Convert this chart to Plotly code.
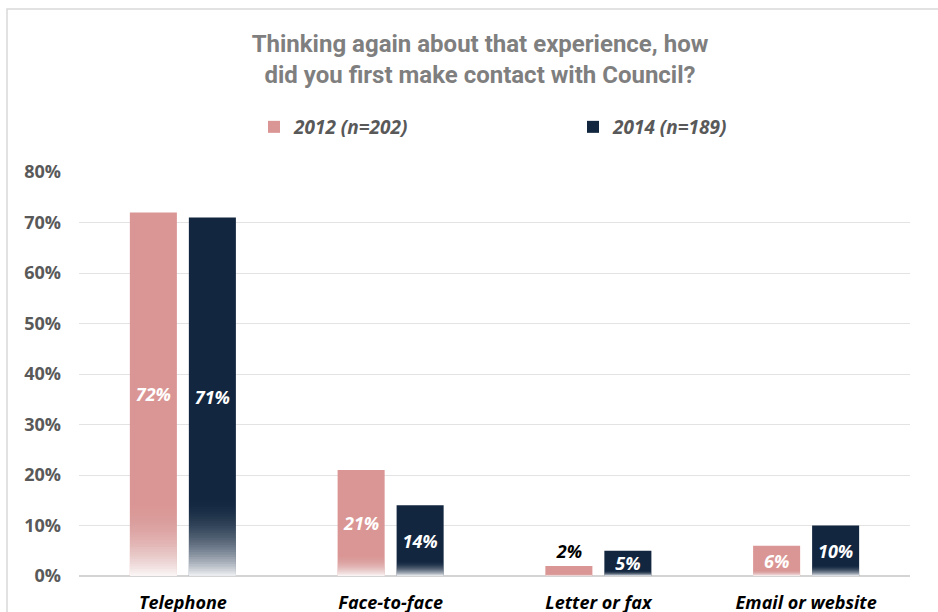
import plotly.graph_objects as go

categories = ["Telephone", "Face-to-face", "Letter or fax", "Email or website"]
series_names = ["2012 (n=202)", "2014 (n=189)"]
values_2012 = [72, 21, 2, 6]
values_2014 = [71, 14, 5, 10]
label_pos_2012 = ["inside", "inside", "outside", "inside"]
label_pos_2014 = ["inside", "inside", "inside", "inside"]
y_tick_values = [0, 10, 20, 30, 40, 50, 60, 70, 80]
y_tick_labels = ["0%", "10%", "20%", "30%", "40%", "50%", "60%", "70%", "80%"]
title_text = "Thinking again about that experience, how<br>did you first make contact with Council?"

PINK = "#da9694"
NAVY = "#12263f"
LABEL_FONT = "Open Sans, Lato, sans-serif"
TITLE_FONT = "Roboto, sans-serif"

W, H = 938, 612
ML, MR, MT, MB = 79, 28, 172, 36

# bottom fade of each bar: fraction of bar height and whiteness at the base
FADE_FRACTION = 0.24
FADE_STEPS = 36
FADE_MAX = 0.92

fig = go.Figure()

for name, vals, color, pos in [(series_names[0], values_2012, PINK, label_pos_2012),
                               (series_names[1], values_2014, NAVY, label_pos_2014)]:
    fig.add_trace(go.Bar(
        x=categories, y=vals, name=name, offsetgroup=name,
        marker=dict(color=color, line=dict(width=0)),
        text=[f"{v}%" for v in vals], textposition=pos, textangle=0,
        insidetextanchor="middle", constraintext="none", cliponaxis=False,
        insidetextfont=dict(color="white", size=18, family=LABEL_FONT,
                            weight="bold", style="italic"),
        outsidetextfont=dict(color="black", size=18, family=LABEL_FONT,
                             weight="bold", style="italic"),
        hoverinfo="skip",
    ))
    # white layers stacked from the baseline build a soft gradient (eased in)
    prev_w = 0.0
    for k in range(1, FADE_STEPS + 1):
        t = k / FADE_STEPS
        w = FADE_MAX * t * t
        alpha = 1 - (1 - w) / (1 - prev_w)
        prev_w = w
        frac = FADE_FRACTION * (FADE_STEPS - k + 1) / FADE_STEPS
        fig.add_trace(go.Bar(
            x=categories, y=[v * frac for v in vals], base=0,
            offsetgroup=name, showlegend=False, hoverinfo="skip",
            marker=dict(color=f"rgba(255,255,255,{alpha:.4f})",
                        line=dict(width=0)),
        ))

fig.update_layout(
    width=W, height=H,
    margin=dict(l=ML, r=MR, t=MT, b=MB, autoexpand=False),
    paper_bgcolor="white", plot_bgcolor="white",
    barmode="group", bargap=0.432, bargroupgap=0.203,
    title=dict(text=title_text, x=(480 - ML) / (W - ML - MR), xref="paper",
               xanchor="center", y=1 - 52 / H, yanchor="top",
               font=dict(family=TITLE_FONT, size=24, color="#7f7f7f",
                         weight="bold")),
    legend=dict(orientation="h", x=(254 - ML) / (W - ML - MR), xanchor="left",
                y=1 + (MT - 108) / (H - MT - MB), yanchor="top",
                entrywidth=274, entrywidthmode="pixels",
                font=dict(family=LABEL_FONT, size=19, color="#595959",
                          weight="bold", style="italic"),
                itemclick=False, itemdoubleclick=False),
    xaxis=dict(showgrid=False, showline=False, ticks="", automargin=False,
               ticklabelstandoff=14,
               tickfont=dict(family=LABEL_FONT, size=18, color="black",
                             weight="bold", style="italic")),
    yaxis=dict(range=[0, 80], tickvals=y_tick_values, ticktext=y_tick_labels,
               showgrid=True, gridcolor="#e3e3e3", gridwidth=1,
               zeroline=True, zerolinecolor="#d4d4d4", zerolinewidth=2,
               showline=False, ticks="", ticklabelstandoff=17, automargin=False,
               tickfont=dict(family=LABEL_FONT, size=18, color="#595959",
                             weight="bold")),
    showlegend=True,
)

# light frame around the chart area
pw, ph = W - ML - MR, H - MT - MB
fig.add_shape(type="rect", xref="paper", yref="paper",
              x0=(7 - ML) / pw, x1=(W + 10 - ML) / pw,
              y0=-(MB + 10) / ph, y1=1 + (MT - 9) / ph,
              line=dict(color="#d9d9d9", width=1.5), fillcolor="rgba(0,0,0,0)",
              layer="below")

fig.write_html("out.html")
